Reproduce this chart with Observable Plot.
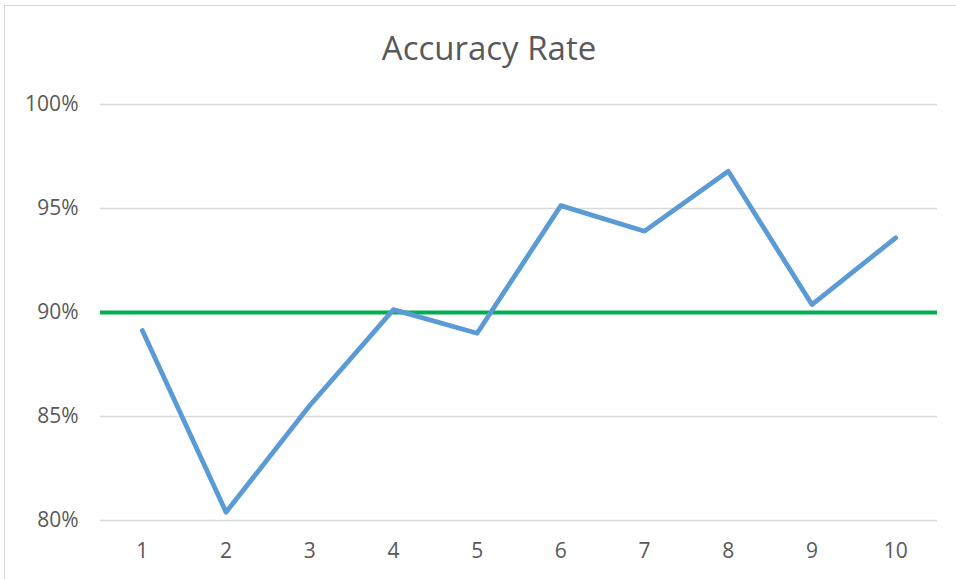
<!DOCTYPE html>
<html>
<head>
<meta charset="utf-8">
<script src="https://cdn.jsdelivr.net/npm/d3@7"></script>
<script src="https://cdn.jsdelivr.net/npm/@observablehq/plot@0.6"></script>
<style>
  html, body { margin: 0; padding: 0; background: #fff; }
  #frame {
    position: absolute; left: 4px; top: 5px; width: 1000px; height: 1000px;
    border: 1.5px solid #D9D9D9; box-sizing: border-box;
  }
  #wrap { position: absolute; left: 0; top: 0; width: 956px; height: 579px; overflow: hidden; }
  #title {
    position: absolute; left: 0; top: 27px; width: 978px; text-align: center;
    font-family: "Open Sans", sans-serif; font-size: 33px; color: #595959;
    line-height: 42px;
  }
  #chart { position: absolute; left: 0; top: 80px; }
  #chart svg text { font-size: 21px; }
</style>
</head>
<body>
<div id="wrap">
  <div id="frame"></div>
  <div id="title">Accuracy Rate</div>
  <div id="chart"></div>
</div>
<script>
const trials = [1, 2, 3, 4, 5, 6, 7, 8, 9, 10];
const accuracy = [89.13, 80.40, 85.53, 90.14, 89.00, 95.14, 93.91, 96.79, 90.38, 93.59];
const target = [90];
const yTicks = [80, 85, 90, 95, 100];

const data = trials.map((t, i) => ({trial: t, value: accuracy[i]}));

const chart = Plot.plot({
  width: 956,
  height: 499,
  marginTop: 24,
  marginBottom: 59,
  marginLeft: 100,
  marginRight: 19,
  style: {fontFamily: "Open Sans, sans-serif", fontSize: "21px", color: "#595959", background: "transparent"},
  x: {type: "point", domain: trials, padding: 0.5, round: false, label: null},
  y: {domain: [80, 100], label: null},
  marks: [
    Plot.gridY(yTicks, {stroke: "#D9D9D9", strokeOpacity: 1, strokeWidth: 1.5}),
    Plot.axisY(yTicks, {tickSize: 0, tickPadding: 22, tickFormat: d => d + "%", label: null, fill: "#595959", fontSize: 21}),
    Plot.axisX(trials, {tickSize: 0, tickPadding: 23, label: null, fill: "#595959", fontSize: 21}),
    Plot.ruleY(target, {stroke: "#00B050", strokeWidth: 4}),
    Plot.line(data, {x: "trial", y: "value", stroke: "#5B9BD5", strokeWidth: 4.8, strokeLinecap: "round", strokeLinejoin: "round"})
  ]
});
document.getElementById("chart").appendChild(chart);
</script>
</body>
</html>
